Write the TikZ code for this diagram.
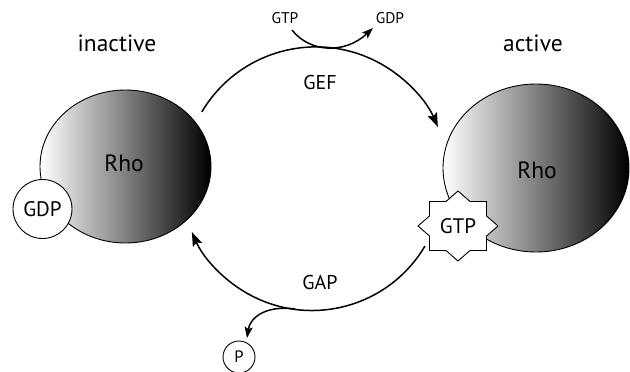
\documentclass[tikz,border=0pt]{standalone}
\usepackage{fontspec}
\setmainfont{PT Sans}
\usetikzlibrary{shapes.geometric,arrows.meta,calc}
\begin{document}
\begin{tikzpicture}[x=1pt,y=-1pt,
  rho/.style={ellipse, draw, line width=0.9pt, left color=white, middle color=black!36, right color=black, inner sep=0pt},
  flow/.style={line width=1.5pt, -{Stealth[length=14pt,width=10pt,inset=2.5pt]}},
  branch/.style={line width=1.5pt, -{Stealth[length=11pt,width=8pt,inset=2pt]}},
  big/.style={font=\fontsize{23.5}{27}\selectfont},
  mid/.style={font=\fontsize{20}{23}\selectfont},
  small/.style={font=\fontsize{15.5}{18}\selectfont},
  mol/.style={font=\fontsize{21}{24}\selectfont},
  ring/.style={circle, draw, fill=white, line width=0.9pt, inner sep=0pt}
]
\useasboundingbox (0,0) rectangle (630,372);

% Rho proteins
\node[rho, minimum width=171pt, minimum height=153pt] (rhoL) at (125.5,166.5) {};
\node[rho, minimum width=186pt, minimum height=168pt] (rhoR) at (536,168) {};
\node[big] (rhoLt) at (124,163) {Rho};
\node[big] (rhoRt) at (537,170) {Rho};

% GDP bound to inactive Rho
\node[ring, minimum size=59pt, mol] (gdpb) at (42.5,209) {GDP};

% GTP star bound to active Rho
\coordinate (gtpc) at (458,226);
\filldraw[fill=white, draw=black, line width=0.9pt, shift={(gtpc)}]
  (0,-35) -- (12,-24.5) -- (28.5,-24.5) -- (28.5,-10) -- (40,0) -- (28.5,10) --
  (28.5,24.5) -- (12,24.5) -- (0,35) -- (-12,24.5) -- (-28.5,24.5) -- (-28.5,10) --
  (-40,0) -- (-28.5,-10) -- (-28.5,-24.5) -- (-12,-24.5) -- cycle;
\node[mol] (gtpb) at (gtpc) {GTP};

% state labels
\node[big] (inact) at (117,43) {inactive};
\node[big] (act) at (533,43) {active};

% cycle arcs
\coordinate (gefS) at ($(316,179.7)+(-149.3:132.8)$);
\draw[flow] (gefS) arc[start angle=-149.3, end angle=-23.4, radius=132.8];
\coordinate (gapS) at ($(312,179.3)+(30.6:131.2)$);
\draw[flow] (gapS) arc[start angle=30.6, end angle=156.3, radius=131.2];

\node[mid] (gef) at (320,82) {GEF};
\node[mid] (gap) at (320,282) {GAP};

% GTP in / GDP out
\node[small] (gtpin) at (285,18) {GTP};
\node[small] (gdpout) at (390,18) {GDP};
\coordinate (gtpfrom) at (292,30);
\coordinate (gdpto) at (373,28);
\draw[branch] (gtpfrom) .. controls (310,53) and (345,54) .. (gdpto);

% phosphate release
\node[ring, minimum width=32pt, minimum height=30pt, font=\fontsize{16.5}{19}\selectfont] (pi) at (239,357) {P};
\coordinate (gapsplit) at (295,309);
\coordinate (ptip) at (247,338);
\draw[branch] (gapsplit) .. controls (265,305) and (250,318) .. (ptip);
\end{tikzpicture}
\end{document}
